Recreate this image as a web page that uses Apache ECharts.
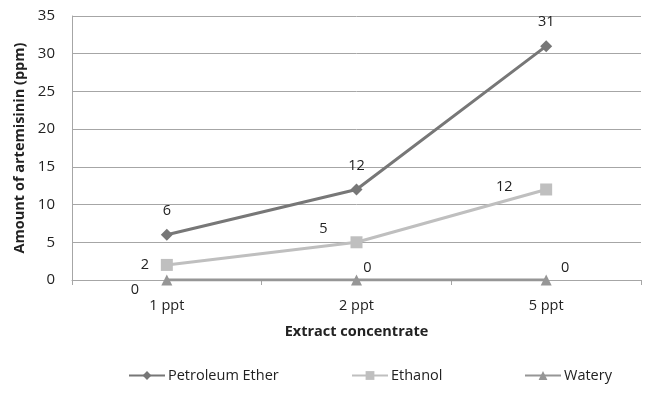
<!DOCTYPE html>
<html>
<head>
<meta charset="utf-8">
<script src="https://cdn.jsdelivr.net/npm/echarts@6/dist/echarts.min.js"></script>
<style>html,body{margin:0;padding:0;background:#fff;}#c{width:657px;height:402px;}</style>
</head>
<body>
<div id="c"></div>
<script>
const categories = ['1 ppt', '2 ppt', '5 ppt'];
const petroleumEther = [6, 12, 31];
const ethanol = [2, 5, 12];
const watery = [0, 0, 0];
const yTicks = [0, 5, 10, 15, 20, 25, 30, 35];
const seriesNames = ['Petroleum Ether', 'Ethanol', 'Watery'];

const FONT = 'Open Sans';
const chart = echarts.init(document.getElementById('c'));

function build(values, offsets) {
  return values.map((v, i) => ({
    value: v,
    label: { show: true, position: 'inside', offset: offsets[i], color: '#222', fontSize: 14.5, fontFamily: FONT }
  }));
}

const legendLefts = [128, 351, 524];
const legends = seriesNames.map((n, i) => ({
  data: [n],
  left: legendLefts[i],
  top: 368,
  padding: 0,
  itemWidth: 36,
  itemHeight: 11,
  itemGap: 0,
  textStyle: { color: '#222', fontSize: 14.5, fontFamily: FONT, padding: [0, 0, 0, -2] }
}));

chart.setOption({
  animation: false,
  textStyle: { fontFamily: FONT },
  grid: { left: 72, right: 16, top: 16, bottom: 122, containLabel: false },
  xAxis: {
    type: 'category',
    data: categories,
    boundaryGap: true,
    axisLine: { lineStyle: { color: '#a6a6a6', width: 1 } },
    axisTick: { show: true, length: 5, lineStyle: { color: '#a6a6a6' } },
    axisLabel: { color: '#222', fontSize: 14.5, fontFamily: FONT, margin: 18 },
    name: 'Extract concentrate',
    nameLocation: 'middle',
    nameGap: 44,
    nameTextStyle: { color: '#222', fontSize: 14.5, fontWeight: 'bold', fontFamily: FONT }
  },
  yAxis: {
    type: 'value',
    min: yTicks[0],
    max: yTicks[yTicks.length - 1],
    interval: 5,
    axisLine: { show: true, lineStyle: { color: '#a6a6a6', width: 1 } },
    axisTick: { show: false },
    splitLine: { lineStyle: { color: '#a6a6a6', width: 1 } },
    axisLabel: { color: '#222', fontSize: 15, fontFamily: FONT, margin: 17 },
    name: 'Amount of artemisinin (ppm)',
    nameLocation: 'middle',
    nameGap: 42,
    nameTextStyle: { color: '#222', fontSize: 14.5, fontWeight: 'bold', fontFamily: FONT }
  },
  legend: legends,
  series: [
    {
      name: 'Watery', type: 'line', z: 3,
      data: build(watery, [[-32, 10], [11, -12], [19, -12]]),
      symbol: 'triangle', symbolSize: 11,
      lineStyle: { color: '#969696', width: 3 },
      itemStyle: { color: '#969696' }
    },
    {
      name: 'Ethanol', type: 'line', z: 4,
      data: build(ethanol, [[-22, 0], [-33, -13], [-42, -3]]),
      symbol: 'rect', symbolSize: 12,
      lineStyle: { color: '#bfbfbf', width: 3 },
      itemStyle: { color: '#bfbfbf' }
    },
    {
      name: 'Petroleum Ether', type: 'line', z: 5,
      data: build(petroleumEther, [[0, -24], [0, -24], [0, -24]]),
      symbol: 'diamond', symbolSize: 12,
      lineStyle: { color: '#777777', width: 3 },
      itemStyle: { color: '#777777' }
    }
  ]
});
</script>
</body>
</html>
